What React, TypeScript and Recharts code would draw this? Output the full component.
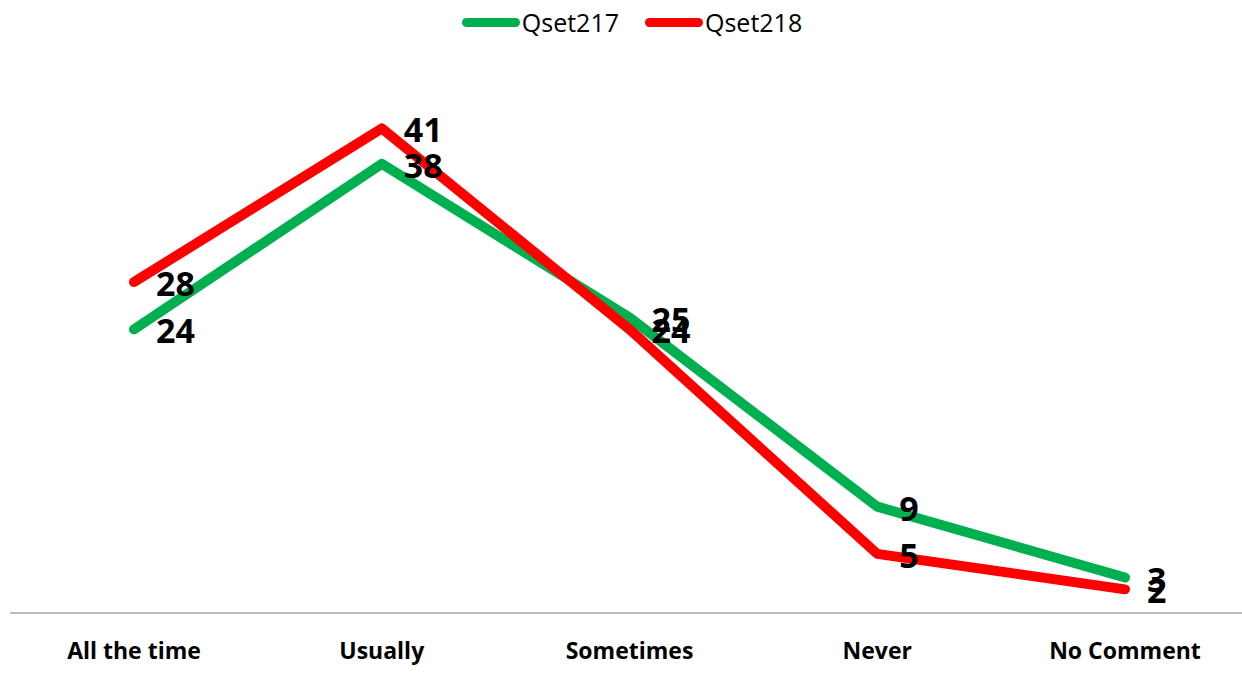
import React from 'react';
import { LineChart, Line, XAxis, YAxis, Legend, LabelList } from 'recharts';

const categories = ['All the time', 'Usually', 'Sometimes', 'Never', 'No Comment'];
const qset217 = [24, 38, 25, 9, 3];
const qset218 = [28, 41, 24, 5, 2];
const seriesNames = ['Qset217', 'Qset218'];
const seriesColors = ['#00B050', '#FF0000'];

const data = categories.map((c, i) => ({ name: c, Qset217: qset217[i], Qset218: qset218[i] }));

const FONT = '"Open Sans", sans-serif';

const ValueLabel = (props: any) => {
  const { x, y, value } = props;
  return (
    <text x={x + 22} y={y + 14} fontFamily={FONT} fontWeight={700} fontSize={34} fill="#000">
      {value}
    </text>
  );
};

const LegendContent = () => (
  <div style={{ position: 'relative', height: 0, overflow: 'visible' }}>
    <div style={{ display: 'flex', justifyContent: 'center', alignItems: 'center', paddingLeft: 22, fontFamily: FONT, fontSize: 25, color: '#000' }}>
      {seriesNames.map((n, i) => (
        <div key={n} style={{ display: 'flex', alignItems: 'center', marginRight: i === 0 ? 26 : 0 }}>
          <div style={{ width: 58, height: 9, borderRadius: 5, background: seriesColors[i], marginRight: 2 }} />
          <span style={{ lineHeight: '28px' }}>{n}</span>
        </div>
      ))}
    </div>
  </div>
);

export default function App() {
  return (
    <div style={{ position: 'absolute', left: 0, top: 0, background: '#fff' }}>
      <LineChart width={1242} height={677} data={data} margin={{ top: 22, right: 0, bottom: 0, left: 10 }}>
        <Legend verticalAlign="top" content={<LegendContent />} wrapperStyle={{ top: 8, left: 0, width: 1242 }} />
        <XAxis
          dataKey="name"
          height={64}
          padding={{ left: 124, right: 117 }}
          tickLine={false}
          tickSize={0}
          tickMargin={30}
          axisLine={{ stroke: '#A6A6A6', strokeWidth: 1.5 }}
          tick={{ fontFamily: FONT, fontWeight: 700, fontSize: 23, fill: '#000' }}
          interval={0}
        />
        <YAxis hide domain={[0, 50]} />
        <Line
          dataKey="Qset217"
          stroke={seriesColors[0]}
          strokeWidth={10}
          strokeLinecap="round"
          strokeLinejoin="round"
          dot={false}
          activeDot={false}
          isAnimationActive={false}
        >
          <LabelList dataKey="Qset217" content={<ValueLabel />} />
        </Line>
        <Line
          dataKey="Qset218"
          stroke={seriesColors[1]}
          strokeWidth={10}
          strokeLinecap="round"
          strokeLinejoin="round"
          dot={false}
          activeDot={false}
          isAnimationActive={false}
        >
          <LabelList dataKey="Qset218" content={<ValueLabel />} />
        </Line>
      </LineChart>
    </div>
  );
}
